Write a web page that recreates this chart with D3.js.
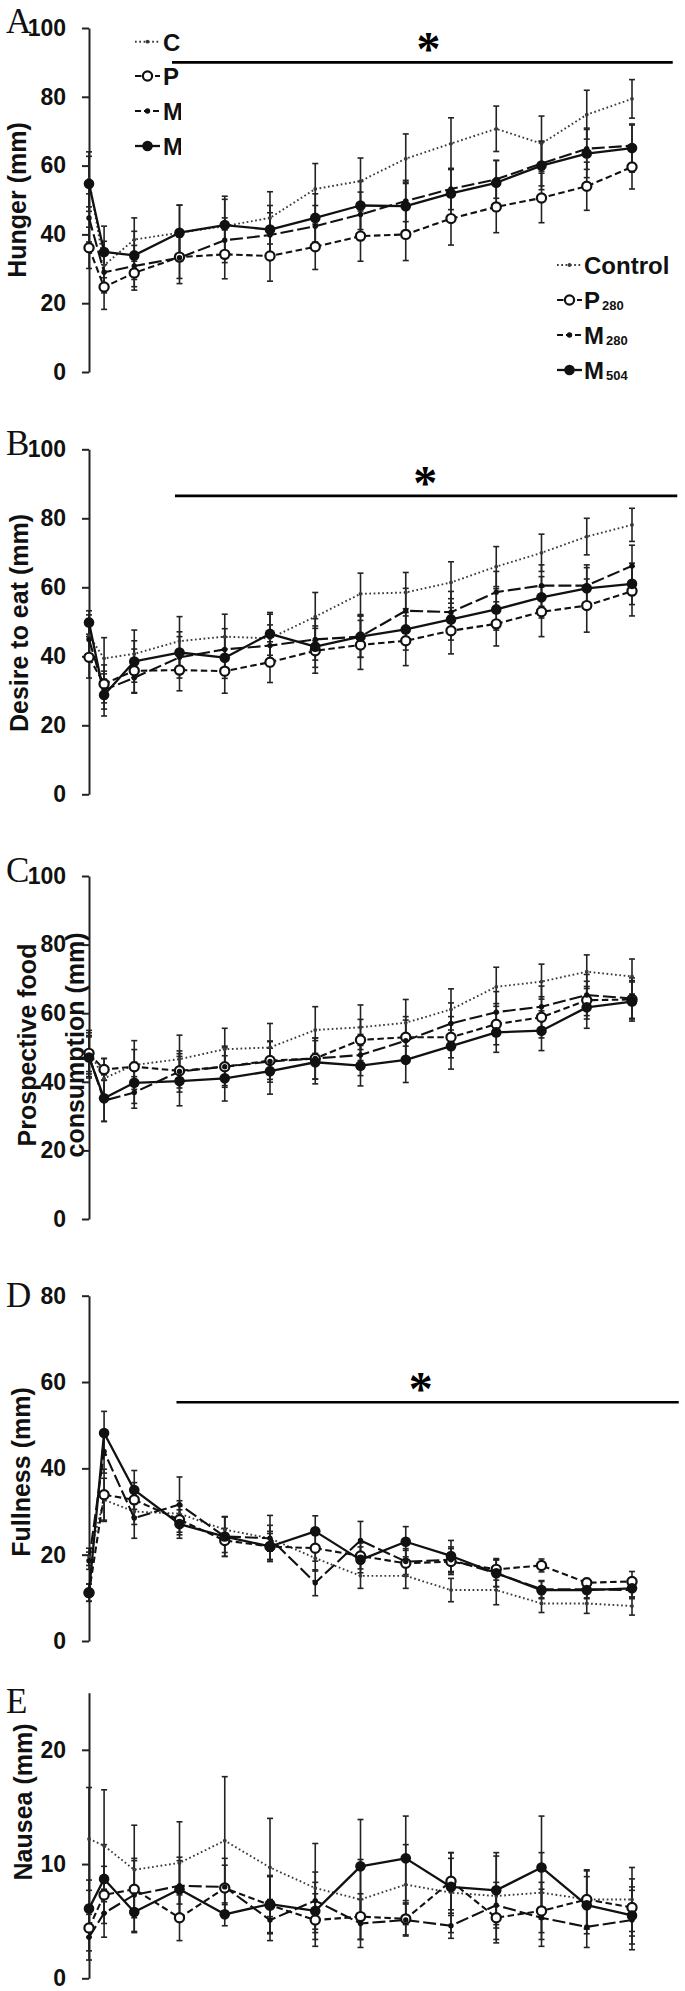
<!DOCTYPE html>
<html><head><meta charset="utf-8">
<script src="https://cdn.jsdelivr.net/npm/d3@7/dist/d3.min.js"></script>
<style>body{margin:0;background:#fff}svg{display:block}</style>
</head><body>
<svg id="chart" width="685" height="1991"></svg>
<script>
// ---------- DATA ----------
const times = [0,10,30,60,90,120,150,180,210,240,270,300,330,360]; // minutes
const seriesNames = ["Control","P280","M280","M504"];
const legendMain = ["Control","P","M","M"];
const legendSub = ["","280","280","504"];

// A: Hunger
const hungerControl = [56,31,38.5,40.5,42.4,44.8,53.2,55.5,62,66.4,70.7,66.4,74.8,79.4];
const hungerP280    = [36.1,24.7,28.8,33.4,34.2,33.7,36.4,39.5,40,44.6,48,50.6,54,59.6];
const hungerM280    = [44.8,29,30.8,33.2,38.3,39.8,42.4,45.8,49.7,53.2,56,60.6,64.9,65.8];
const hungerM504    = [54.7,34.9,33.9,40.5,42.7,41.4,44.8,48.4,48.2,51.9,55,60,63.5,65.1];
const hungerControlSE = [8,7,6.3,8,8.7,7.6,7.4,6.7,7.2,7.5,6.6,8,7.1,5.6];
const hungerP280SE    = [6,6.5,5,7.7,7.1,7.3,6.6,7.3,7.6,7.7,7.5,7.2,7,6.4];
const hungerM280SE    = [7,6,6,6,6.5,6.5,6,6.5,6,6,5.5,6.5,6,6];
const hungerM504SE    = [8,7.5,7,8,7.5,7,7,7,7,7,6.5,7,7,7];

// B: Desire to eat
const desireControl = [46,39.4,40.7,44.4,45.7,45.2,51.5,58.1,58.5,61.4,66,70,74.7,78.1];
const desireP280    = [39.7,32,35.8,36,35.7,38.3,41.6,43.3,44.5,47.4,49.4,52.9,54.7,58.9];
const desireM280    = [44.9,30.2,33.8,39.7,42,43.1,44.9,45.7,53.2,52.8,58.6,60.5,60.5,66.2];
const desireM504    = [49.8,28.8,38.5,41.1,39.6,46.5,42.8,45.7,47.8,50.7,53.6,57.1,59.7,61];
const desireControlSE = [6,6,6.9,7.1,6.5,7,7,6,5.8,6,5.8,5.4,5.3,4.8];
const desireP280SE    = [6,5.5,6.3,6,6.4,5.9,6.5,7.1,7.2,6.7,6.4,7.2,7.7,7.2];
const desireM280SE    = [6,5.5,4.5,6,6,6,6,6,6.5,6,6,6,6,6];
const desireM504SE    = [3.4,6.1,6,6,6,6.2,6,6,6,6,6,6,6,6];

// C: Prospective food consumption
const pfcControl = [49,41,44.9,46.6,49.5,50,55.1,55.9,57.2,61.1,67.7,69.2,72.1,70.7];
const pfcP280    = [48.3,43.6,44.4,43.2,44.4,46.2,46.8,52.2,53,53,56.8,58.8,63.8,64];
const pfcM280    = [47.5,34.5,36.9,43,44.4,45.9,46.8,47.8,52,57,60.3,61.9,65.3,64.3];
const pfcM504    = [47.1,35.2,39.7,40.2,41,43.1,45.7,44.7,46.4,50.4,54.4,54.9,61.7,63.4];
const pfcControlSE = [6,5.8,7.1,7,6.1,7,6.8,6.5,6.8,6,5.7,5.1,4.9,5.1];
const pfcP280SE    = [6,3.2,5,5,5.5,5.5,6,6,6,6,6,6,5.5,5.5];
const pfcM280SE    = [6,6,4.6,6,6,6,6,6,6,6,6,6,6,6];
const pfcM504SE    = [6,6.8,6,7.2,6.6,6.7,6.3,5.9,6.6,6.7,5.8,5.8,6.1,5.7];

// D: Fullness
const fullControl = [19.5,32.7,30,29.5,25.8,23.8,19.2,15.1,15.1,11.8,11.8,8.7,8.7,8.1];
const fullP280    = [11.2,33.9,32.7,28.1,23.3,21.9,21.5,19.7,18,18.4,16.6,17.5,13.5,13.8];
const fullM280    = [18.6,43.9,28.5,31.6,24.2,23.8,13.5,23.3,18.4,18.8,15.7,12,12,11.8];
const fullM504    = [11.2,48.2,35,27.1,24.2,21.9,25.4,18.8,23,19.7,15.7,11.8,11.8,12.2];
const fullControlSE = [2,5,3,3,3,3,3,2.9,2.9,2.7,3.4,2.1,2.3,2.1];
const fullP280SE    = [2,5.9,4,3.5,2.8,3,3,3,3,3,2.5,1.5,1,2.3];
const fullM280SE    = [2,5,4.7,6.4,4.6,5.3,3,4.4,3,3,3.1,2,2,2];
const fullM504SE    = [2,5,4.5,3.3,4.6,3.5,3.6,3,3.5,3.6,3.1,2,2,2];

// E: Nausea
const nauseaControl = [12.2,11.6,9.5,10.1,12.05,9.7,7.9,6.9,8.2,7.5,7.2,7.5,6.9,6.9];
const nauseaP280    = [4.4,7.3,7.8,5.3,7.9,6.4,5.1,5.4,5.2,8.5,5.3,5.9,6.9,6.2];
const nauseaM280    = [3.6,5.7,7.3,8.1,8,5.1,6.8,4.8,5.1,4.6,6.4,5.3,4.5,5.1];
const nauseaM504    = [6.1,8.7,5.8,7.8,5.6,6.5,5.9,9.8,10.5,8,7.7,9.7,6.4,5.5];
const nauseaControlSE = [4.5,4.9,3.9,3.6,5.6,4.3,3.9,3.5,3.5,3.5,3.8,3.5,2.6,2.8];
const nauseaP280SE    = [2,2.5,2.5,2,2,2.5,2.3,2,1.4,2.5,2.2,2.5,2.5,2.5];
const nauseaM280SE    = [2,2.1,3.2,2.5,2.5,1.8,2.5,2.1,1.4,1.1,2,2.5,1.8,2.6];
const nauseaM504SE    = [2.5,3,1.8,2.5,1,2.5,2.5,4.1,3.7,2.5,3,4.5,2.5,2.5];

// significance bars (minutes / value)
const sigLetters = ["A","B","D"];
const sigFrom  = [55,57,58];
const sigTo    = [387,390,391];
const sigLevel = [90,86.5,55.3];
const sigStarAt = [225,223,220];

// ---------- LAYOUT ----------
const panels = [
  {letter:"A", title:["Hunger (mm)"], titleX:[26], titleY:200, max:100, ticks:[0,20,40,60,80,100], top:28, bottom:372, letterY:33,
   vals:[hungerControl,hungerP280,hungerM280,hungerM504], se:[hungerControlSE,hungerP280SE,hungerM280SE,hungerM504SE]},
  {letter:"B", title:["Desire to eat (mm)"], titleX:[28], titleY:623, max:100, ticks:[0,20,40,60,80,100], top:449.3, bottom:794.3, letterY:455,
   vals:[desireControl,desireP280,desireM280,desireM504], se:[desireControlSE,desireP280SE,desireM280SE,desireM504SE]},
  {letter:"C", title:["Prospective food","consumption (mm)"], titleX:[36,84], titleY:1045, max:100, ticks:[0,20,40,60,80,100], top:876, bottom:1219, letterY:882,
   vals:[pfcControl,pfcP280,pfcM280,pfcM504], se:[pfcControlSE,pfcP280SE,pfcM280SE,pfcM504SE]},
  {letter:"D", title:["Fullness (mm)"], titleX:[30], titleY:1472, max:80, ticks:[0,20,40,60,80], top:1295.7, bottom:1641, letterY:1307,
   vals:[fullControl,fullP280,fullM280,fullM504], se:[fullControlSE,fullP280SE,fullM280SE,fullM504SE]},
  {letter:"E", title:["Nausea (mm)"], titleX:[32], titleY:1802, max:25, ticks:[0,10,20], top:1692.7, bottom:1978.3, letterY:1713,
   vals:[nauseaControl,nauseaP280,nauseaM280,nauseaM504], se:[nauseaControlSE,nauseaP280SE,nauseaM280SE,nauseaM504SE]}
];

const styles = [
  {dash:"1.7,2.6", width:1.9, color:"#3a3a3a", marker:"dot", r:1.9},
  {dash:"6.5,3.5", width:2.1, color:"#111", marker:"open", r:4.6},
  {dash:"13,4", width:2.1, color:"#111", marker:"small", r:2.7},
  {dash:null, width:2.3, color:"#111", marker:"filled", r:5.3}
];

const SANS = "'Liberation Sans', Arial, Helvetica, sans-serif";
const SERIF = "'Liberation Serif', 'Times New Roman', serif";

const svg = d3.select("#chart");
svg.append("rect").attr("width",685).attr("height",1991).attr("fill","#fff");

const x = d3.scaleLinear().domain([0,360]).range([89,632]);

function drawMarker(g, s, cx, cy) {
  if (s.marker === "open") {
    g.append("circle").attr("cx",cx).attr("cy",cy).attr("r",s.r).attr("fill","#fff").attr("stroke","#111").attr("stroke-width",2.2);
  } else {
    g.append("circle").attr("cx",cx).attr("cy",cy).attr("r",s.r).attr("fill",s.color);
  }
}

panels.forEach(p => {
  const y = d3.scaleLinear().domain([0,p.max]).range([p.bottom,p.top]);
  const g = svg.append("g");

  // axis
  const ax = g.append("g").attr("transform","translate(89,0)")
    .call(d3.axisLeft(y).tickValues(p.ticks).tickSize(7).tickSizeOuter(0).tickPadding(16).tickFormat(d3.format("d")));
  ax.select(".domain").attr("stroke","#222").attr("stroke-width",2);
  ax.selectAll(".tick line").attr("stroke","#222").attr("stroke-width",2);
  ax.selectAll(".tick text").attr("font-family",SANS).attr("font-weight","bold").attr("font-size",23).attr("fill","#111");

  // title
  p.title.forEach((t,i) => {
    g.append("text").attr("transform",`translate(${p.titleX[i]},${p.titleY}) rotate(-90)`)
      .attr("text-anchor","middle").attr("font-family",SANS).attr("font-weight","bold").attr("font-size",25).attr("fill","#111").text(t);
  });

  // letter
  g.append("text").attr("x",6).attr("y",p.letterY).attr("font-family",SERIF).attr("font-size",35).attr("fill","#111").text(p.letter);

  // error bars
  p.vals.forEach((vals,si) => {
    const se = p.se[si];
    vals.forEach((v,i) => {
      const cx = x(times[i]);
      const y1 = y(Math.min(p.max, v + se[i])), y2 = y(Math.max(0, v - se[i]));
      g.append("line").attr("x1",cx).attr("x2",cx).attr("y1",y1).attr("y2",y2).attr("stroke","#222").attr("stroke-width",1.6);
      [y1,y2].forEach(yy => g.append("line").attr("x1",cx-3).attr("x2",cx+3).attr("y1",yy).attr("y2",yy).attr("stroke","#222").attr("stroke-width",1.6));
    });
  });

  // lines
  const line = d3.line().x((d,i) => x(times[i])).y(d => y(d));
  p.vals.forEach((vals,si) => {
    const s = styles[si];
    g.append("path").datum(vals).attr("d",line).attr("fill","none").attr("stroke",s.color)
      .attr("stroke-width",s.width).attr("stroke-dasharray",s.dash).attr("stroke-linejoin","round");
  });
  // markers
  p.vals.forEach((vals,si) => {
    vals.forEach((v,i) => drawMarker(g, styles[si], x(times[i]), y(v)));
  });

  // significance
  const k = sigLetters.indexOf(p.letter);
  if (k >= 0) {
    const ly = y(sigLevel[k]);
    g.append("line").attr("x1",x(sigFrom[k])).attr("x2",x(sigTo[k])).attr("y1",ly).attr("y2",ly).attr("stroke","#000").attr("stroke-width",2.6);
    g.append("text").attr("x",x(sigStarAt[k])).attr("y",ly - 20 + 23).attr("text-anchor","middle")
      .attr("font-family",SERIF).attr("font-weight","bold").attr("font-size",48).attr("fill","#000").text("*");
  }
});

// legends (panel A)
function legend(x0, x1, tx, rows, clipW) {
  const lg = svg.append("g");
  if (clipW) {
    svg.append("clipPath").attr("id","legclip").append("rect").attr("x",0).attr("y",0).attr("width",clipW).attr("height",400);
    lg.attr("clip-path","url(#legclip)");
  }
  rows.forEach((ry,i) => {
    const s = styles[i];
    lg.append("line").attr("x1",x0).attr("x2",x1).attr("y1",ry).attr("y2",ry).attr("stroke",s.color)
      .attr("stroke-width",s.width).attr("stroke-dasharray", i===2 ? "6,3" : s.dash);
    drawMarker(lg, s, (x0+x1)/2, ry);
    const t = lg.append("text").attr("x",tx).attr("y",ry+9).attr("font-family",SANS).attr("font-weight","bold")
      .attr("font-size",24).attr("fill","#111");
    t.append("tspan").text(legendMain[i]);
    if (legendSub[i]) t.append("tspan").attr("font-size",13).attr("dx",2).attr("dy",1).text(legendSub[i]);
  });
}
legend(135,160,163,[41.7,76,111,146],181);
legend(557,582,584,[265,300,335,370],null);
</script>
</body></html>
